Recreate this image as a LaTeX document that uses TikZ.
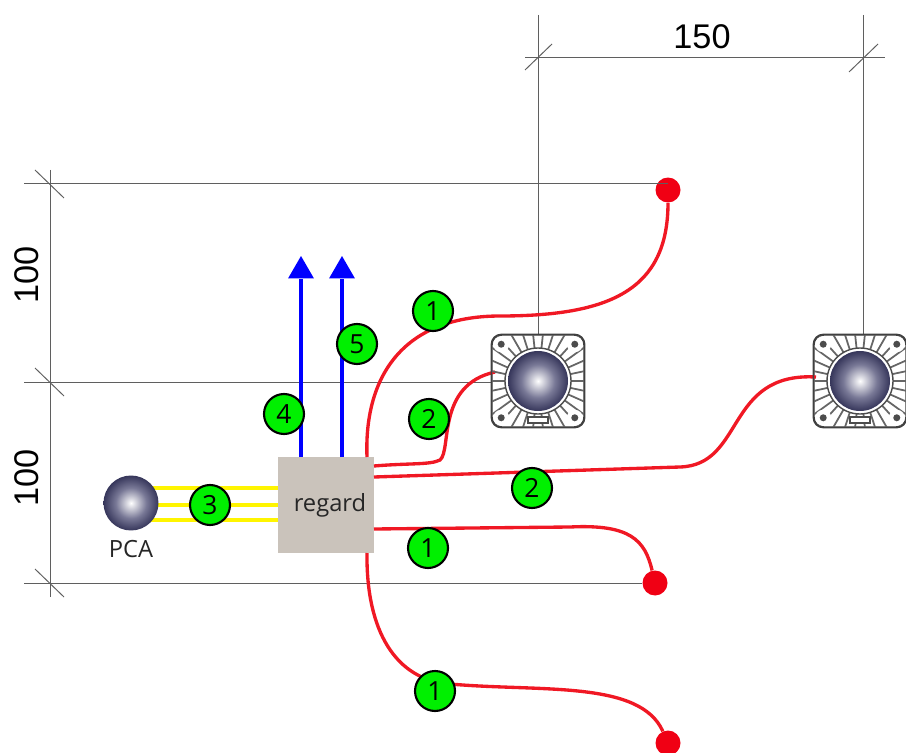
\documentclass[tikz,border=0pt]{standalone}
\usepackage{fontspec}
\setmainfont{Open Sans}
\newfontfamily\dimfont{Liberation Sans}
\usetikzlibrary{shapes.geometric}
\definecolor{wirered}{RGB}{240,24,36}
\definecolor{dotred}{RGB}{240,0,20}
\definecolor{badgegreen}{RGB}{0,240,0}
\definecolor{slabgrey}{RGB}{202,195,187}
\definecolor{dimgrey}{RGB}{95,95,95}
\definecolor{feedyellow}{RGB}{255,245,0}
\definecolor{ballnavy}{RGB}{18,18,58}
\definecolor{ballmid}{RGB}{120,120,150}
\pgfdeclareradialshading{ballshade}{\pgfpointorigin}{color(0bp)=(white);color(14bp)=(ballmid);color(31bp)=(ballnavy);color(50bp)=(ballnavy)}
\tikzset{
  dimline/.style={draw=dimgrey,line width=0.55pt},
  wire/.style={draw=wirered,line width=1.9pt},
  feed/.style={draw=feedyellow,line width=2pt},
  upline/.style={draw=blue,line width=2pt},
  uphead/.style={fill=blue,draw=none,regular polygon,regular polygon sides=3,inner sep=0pt,minimum size=0.6cm},
  badge/.style={circle,draw=black,line width=1.2pt,fill=badgegreen,minimum size=0.8cm,inner sep=0pt,font=\fontsize{15}{15}\selectfont},
  reddot/.style={circle,fill=dotred,minimum size=0.5cm,inner sep=0pt},
  ball/.style={circle,shading=ballshade,inner sep=0pt},
  speakerbox/.style={draw=black!75,line width=0.8pt,rounded corners=0.2cm,fill=white,minimum size=1.84cm,inner sep=0pt},
  dimtext/.style={font=\dimfont\fontsize{19.5}{20}\selectfont,inner sep=0pt}
}
\newcommand{\speakerunit}[1]{
  \begin{scope}[shift={(#1.center)}]
    \clip[rounded corners=0.2cm] (-46,-46) rectangle (46,46);
    \foreach \a in {0,12,...,348}
      \draw[black!60,line width=1pt] (\a:32) -- (\a:70);
    \foreach \a in {45,135,225,315}{
      \fill[white] (\a:52) circle (8);
      \fill[black!70] (\a:52) circle (3.5);
    }
    \draw[black!70,fill=white,line width=0.8pt] (-10,36) rectangle (10,42);
    \draw[black!70,fill=white,line width=0.8pt] (0,0) circle (33);
  \end{scope}
  \draw[black!75,line width=0.8pt,rounded corners=0.2cm] (#1.south west) rectangle (#1.north east);
}
\begin{document}
\begin{tikzpicture}[x=0.02cm,y=-0.02cm]
  \useasboundingbox (0,0) rectangle (906,753);
  % main blocks
  \node[fill=slabgrey,minimum width=1.92cm,minimum height=1.92cm,inner sep=0pt] (regard) at (326,505) {};
  \node[font=\fontsize{13.5}{14}\selectfont,text=black!85] (regardtext) at (330,505) {regard};
  \node[speakerbox] (spkA) at (538,381) {};
  \node[speakerbox] (spkB) at (860,381) {};
  \node[reddot] (endA) at (668,190) {};
  \node[reddot] (endB) at (655,583) {};
  \node[reddot] (endC) at (668,743) {};
  % dimensions
  \coordinate (topA) at (538,15);
  \coordinate (topB) at (863,15);
  \coordinate (dimL) at (525,57);
  \coordinate (dimR) at (885,57);
  \coordinate (leftT) at (50,170);
  \coordinate (leftB) at (50,597);
  \coordinate (rowA) at (24,183);
  \coordinate (rowB) at (24,382);
  \coordinate (rowC) at (24,583);
  \draw[dimline] (topA) -- (538,335);
  \draw[dimline] (topB) -- (863,335);
  \draw[dimline] (dimL) -- (dimR);
  \draw[dimline] (leftT) -- (leftB);
  \draw[dimline] (rowA) -- (endA |- rowA);
  \draw[dimline] (rowB) -- (spkA.west |- rowB);
  \draw[dimline] (rowC) -- (endB);
  \draw[dimline] (525,70) -- (552,44);
  \draw[dimline] (849,72) -- (878,44);
  \draw[dimline] (35,170) -- (64,198);
  \draw[dimline] (35,368) -- (64,396);
  \draw[dimline] (35,569) -- (64,597);
  \node[dimtext] (dimtop) at (702,37) {150};
  \node[dimtext,rotate=90] (dimup) at (27,275) {100};
  \node[dimtext,rotate=90] (dimlow) at (27,478) {100};
  % PCA feed
  \coordinate (pcaA) at (140,488);
  \coordinate (pcaB) at (140,505);
  \coordinate (pcaC) at (140,520);
  \draw[feed] (pcaA) -- (regard.west |- pcaA);
  \draw[feed] (pcaB) -- (regard.west |- pcaB);
  \draw[feed] (pcaC) -- (regard.west |- pcaC);
  \node[ball,minimum size=1.1cm] (pca) at (131,503) {};
  \node[font=\fontsize{13.5}{14}\selectfont,text=black!85] (pcatext) at (131,549) {PCA};
  % up arrows
  \coordinate (upA) at (301,457);
  \coordinate (upB) at (342,457);
  \node[uphead] (headA) at (301,271) {};
  \node[uphead] (headB) at (342,271) {};
  \draw[upline] (upA) -- (headA);
  \draw[upline] (upB) -- (headB);
  % red wires
  \coordinate (outA) at (367,457);
  \coordinate (outB) at (374,466);
  \coordinate (outC) at (374,477);
  \coordinate (outD) at (374,529);
  \coordinate (outE) at (367,553);
  \coordinate (inA) at (495,372);
  \coordinate (inB) at (816,377);
  \draw[wire] (outA) .. controls (364,380) and (400,316) .. (500,316)
    .. controls (610,316) and (668,290) .. (endA);
  \draw[wire] (outB) .. controls (410,463) and (430,465) .. (440,460)
    .. controls (452,450) and (436,385) .. (inA);
  \draw[wire] (outC) -- (680,467) .. controls (745,465) and (725,372) .. (inB);
  \draw[wire] (outD) -- (570,527) .. controls (630,524) and (645,540) .. (endB);
  \draw[wire] (outE) .. controls (366,630) and (395,680) .. (450,684)
    .. controls (540,692) and (640,680) .. (endC);
  % speakers
  \speakerunit{spkA}
  \speakerunit{spkB}
  \node[ball,minimum size=1.2cm] (coneA) at (spkA) {};
  \node[ball,minimum size=1.2cm] (coneB) at (spkB) {};
  % numbered badges
  \node[badge] (n1a) at (433,311) {1};
  \node[badge] (n2a) at (429,419) {2};
  \node[badge] (n3) at (210,505) {3};
  \node[badge] (n4) at (284,414) {4};
  \node[badge] (n5) at (357,344) {5};
  \node[badge] (n2b) at (532,488) {2};
  \node[badge] (n1b) at (428,548) {1};
  \node[badge] (n1c) at (435,691) {1};
\end{tikzpicture}
\end{document}
